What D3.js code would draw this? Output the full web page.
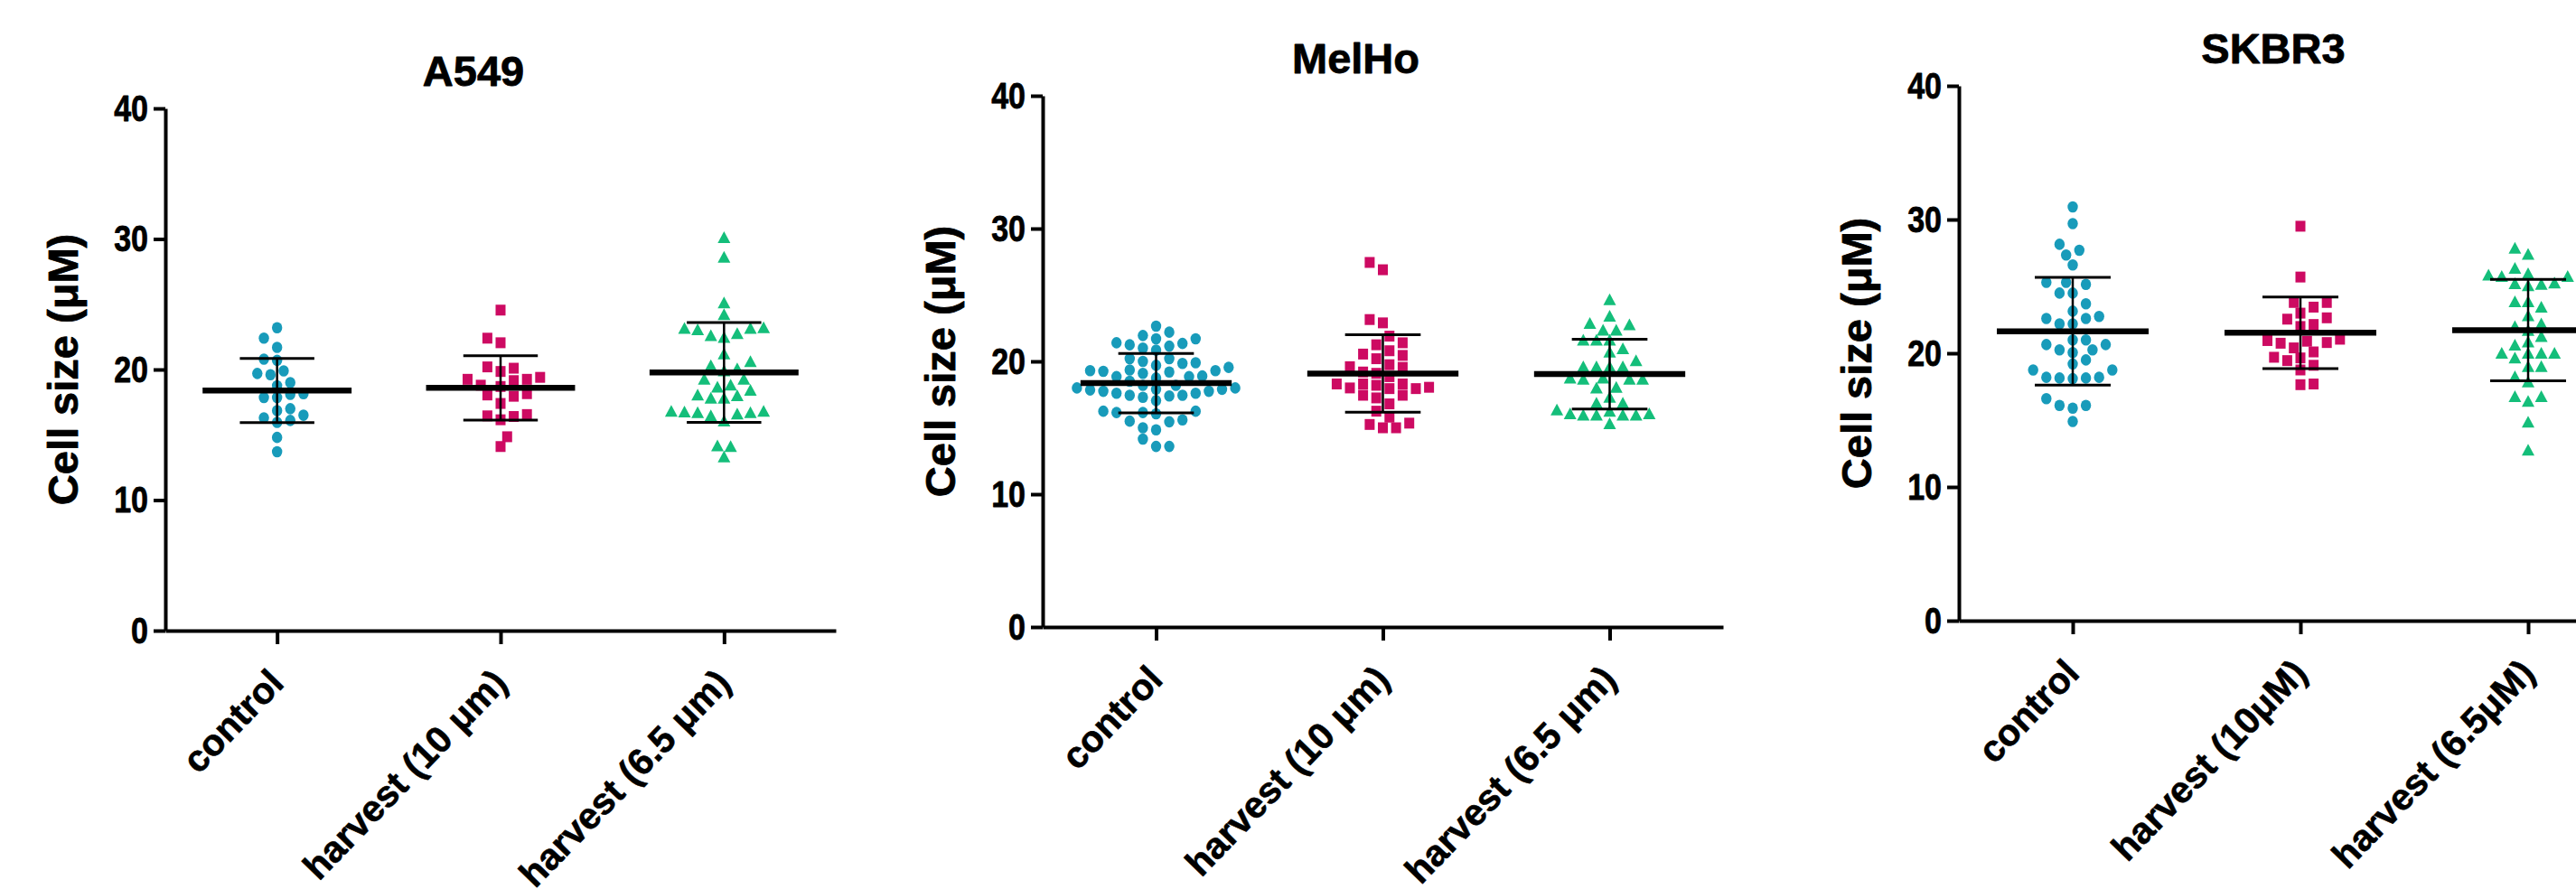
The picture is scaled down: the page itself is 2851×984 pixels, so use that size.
<!DOCTYPE html>
<html>
<head>
<meta charset="utf-8">
<script src="https://cdn.jsdelivr.net/npm/d3@7"></script>
<style>
  body { margin: 0; background: #fff; }
  svg { display: block; }
</style>
</head>
<body>
<script>

// ---- data ----
const labelsUm = ["control", "harvest (10 μm)", "harvest (6.5 μm)"]
const labelsUM = ["control", "harvest (10μM)", "harvest (6.5μM)"]
const yTicks = [0, 10, 20, 30, 40]

const a549Control = [23.2, 22.4, 21.7, 20.7, 20.8, 19.7, 19.6, 19.9, 18.75, 19.0, 18.1, 17.85, 17.85, 18.15, 17.0, 16.85, 16.5, 16.1, 15.95, 16.3, 14.8, 13.7]
const a549Harvest10 = [24.55, 22.4, 22.05, 20.1, 20.2, 19.4, 19.25, 19.85, 18.8, 18.7, 19.15, 19.25, 18.05, 17.95, 18.15, 17.4, 16.55, 16.4, 16.15, 16.45, 14.85, 14.1]
const a549Harvest65 = [30.1, 28.6, 25.1, 24.2, 23.15, 23.05, 22.6, 22.45, 22.75, 23.15, 23.2, 21.2, 20.6, 20.05, 19.9, 20.3, 19.25, 19.25, 18.8, 18.65, 18.4, 18.0, 17.8, 17.8, 18.05, 16.8, 16.7, 16.7, 16.45, 16.6, 16.75, 16.8, 16.05, 14.15, 14.1, 13.3]
const a549Mean = [18.39, 18.59, 19.77]
const a549Sd = [2.45, 2.46, 3.82]

const melControl = [22.65, 22.2, 21.95, 21.7, 21.4, 21.25, 21.35, 21.7, 21.15, 20.85, 21.0, 20.2, 20.0, 20.2, 19.85, 19.55, 19.3, 19.2, 19.1, 18.9, 18.75, 18.85, 18.85, 19.25, 19.3, 19.35, 19.7, 19.9, 18.2, 18.0, 17.9, 17.85, 17.75, 17.6, 17.45, 17.4, 17.45, 17.6, 17.75, 17.9, 18.0, 18.2, 18.5, 17.3, 17.05, 16.25, 16.15, 16.05, 16.15, 16.25, 15.5, 15.45, 15.6, 15.0, 14.85, 14.15, 13.6, 13.6]
const melHarvest10 = [27.45, 26.9, 23.15, 22.9, 21.9, 21.25, 21.4, 20.8, 20.55, 20.45, 20.2, 19.75, 19.6, 19.55, 19.2, 19.1, 18.85, 18.3, 18.3, 18.2, 18.3, 18.05, 17.95, 17.95, 18.0, 17.45, 17.45, 17.25, 16.8, 16.25, 15.8, 15.35, 15.0, 15.0, 15.25]
const melHarvest65 = [24.65, 23.4, 22.85, 22.75, 22.35, 22.35, 21.6, 21.6, 21.6, 20.7, 20.95, 20.05, 19.6, 19.6, 19.6, 19.6, 18.75, 18.65, 18.65, 18.65, 18.75, 18.05, 18.0, 17.3, 16.85, 16.85, 16.35, 16.05, 15.95, 15.95, 15.95, 15.95, 16.05, 16.25, 15.3]
const melMean = [18.36, 19.09, 19.04]
const melSd = [2.23, 2.92, 2.62]

const skControl = [30.95, 29.7, 28.15, 27.7, 27.35, 26.6, 25.3, 25.15, 25.3, 24.5, 24.5, 23.7, 23.15, 22.75, 22.6, 22.6, 22.2, 22.2, 21.0, 21.0, 20.65, 20.25, 20.05, 20.25, 20.65, 19.5, 19.2, 18.75, 18.75, 18.2, 18.15, 18.1, 18.15, 18.2, 16.6, 16.1, 16.1, 15.9, 14.9]
const skHarvest10 = [29.5, 25.7, 23.8, 23.8, 23.45, 23.0, 22.65, 22.55, 22.15, 22.0, 21.05, 20.95, 20.9, 20.75, 20.4, 20.1, 20.8, 19.7, 19.65, 19.45, 19.1, 18.75, 17.65, 17.7]
const skHarvest65 = [27.85, 27.4, 26.35, 25.95, 25.75, 25.75, 25.85, 25.25, 25.15, 25.05, 25.2, 23.85, 23.85, 23.45, 22.8, 22.2, 22.0, 21.7, 21.25, 20.85, 20.6, 20.0, 20.0, 20.0, 20.0, 19.65, 19.0, 19.0, 18.25, 17.85, 16.75, 16.75, 16.4, 14.85, 12.75]
const skMean = [21.64, 21.53, 21.73]
const skSd = [4.03, 2.68, 3.79]

// ---- layout ----
const panels = [
  { title: "A549", labels: labelsUm, values: [a549Control, a549Harvest10, a549Harvest65], means: a549Mean, sds: a549Sd,
    left: 183, top: 120, bottom: 698, width: 742 },
  { title: "MelHo", labels: labelsUm, values: [melControl, melHarvest10, melHarvest65], means: melMean, sds: melSd,
    left: 1154, top: 106, bottom: 694, width: 753 },
  { title: "SKBR3", labels: labelsUM, values: [skControl, skHarvest10, skHarvest65], means: skMean, sds: skSd,
    left: 2168, top: 95, bottom: 687, width: 756 },
]

const colors = ["#189bba", "#cd0a62", "#14be7a"]
const sans = "'Liberation Sans', Arial, sans-serif"

const svg = d3.select("body").append("svg")
  .attr("width", 2851)
  .attr("height", 984)

// simple beeswarm: each point goes to the nearest free slot
function swarm(values, y, sx, sy) {
  const order = d3.range(values.length).sort((a, b) => values[a] - values[b])
  const placed = []
  const off = []
  order.forEach((i, n) => {
    const py = y(values[i])
    for (let k = 0; k < 100; k++) {
      const m = Math.ceil(k / 2)
      const sign = (k % 2 === (n % 2)) ? 1 : -1
      const cx = m * sx / 2 * sign
      const hit = placed.some(p => ((p.x - cx) / sx) ** 2 + ((p.y - py) / sy) ** 2 < 1)
      if (!hit) {
        placed.push({ x: cx, y: py })
        off[i] = cx
        break
      }
    }
  })
  return off
}

function drawMarker(sel, kind, color) {
  if (kind === 0) {
    sel.append("ellipse").attr("rx", 5.7).attr("ry", 6.3).attr("fill", color)
  } else if (kind === 1) {
    sel.append("rect").attr("x", -5.5).attr("y", -6).attr("width", 11).attr("height", 12).attr("fill", color)
  } else {
    sel.append("path").attr("d", "M0,-7L7,6L-7,6Z").attr("fill", color)
  }
}

// heavier look of the original bold type
function heavy(sel, w) {
  sel.attr("stroke", "#000").attr("stroke-width", w).attr("stroke-linejoin", "round")
}

panels.forEach(p => {
  const g = svg.append("g")

  const y = d3.scaleLinear().domain([0, 40]).range([p.bottom, p.top])
  const x = d3.scalePoint().domain([0, 1, 2]).range([p.left, p.left + p.width]).padding(0.5)
  const step = x.step()

  // y axis
  const yAxis = g.append("g")
    .attr("transform", `translate(${p.left},0)`)
    .call(d3.axisLeft(y).tickValues(yTicks).tickSize(13).tickSizeOuter(0).tickPadding(6))
  yAxis.attr("font-size", 41).attr("font-family", sans).attr("font-weight", "bold")
  yAxis.select(".domain").attr("stroke-width", 4)
  yAxis.selectAll(".tick line").attr("stroke-width", 4)
  yAxis.selectAll(".tick text")
    .attr("fill", "#000")
    .attr("x", 0)
    .attr("transform", "translate(-19,0) scale(0.83,1)")
    .call(heavy, 0.8)

  // x axis
  const xAxis = g.append("g")
    .attr("transform", `translate(0,${p.bottom})`)
    .call(d3.axisBottom(x).tickSize(15).tickSizeOuter(0).tickFormat(i => p.labels[i]))
  xAxis.attr("font-size", 41).attr("font-family", sans).attr("font-weight", "bold")
  xAxis.select(".domain").attr("stroke-width", 4)
  xAxis.selectAll(".tick line").attr("stroke-width", 4)
  xAxis.selectAll(".tick text")
    .attr("fill", "#000")
    .attr("y", 0)
    .attr("dy", 0)
    .attr("text-anchor", "end")
    .attr("transform", "translate(9,60) rotate(-46)")
    .call(heavy, 0.6)

  // title
  g.append("text")
    .attr("x", p.left + p.width / 2 - 30)
    .attr("y", p.top - 25)
    .attr("text-anchor", "middle")
    .attr("font-family", sans)
    .attr("font-weight", "bold")
    .attr("font-size", 47)
    .text(p.title)
    .call(heavy, 0.8)

  // y label
  g.append("text")
    .attr("transform", `translate(${p.left - 97},${(p.top + p.bottom) / 2}) rotate(-90)`)
    .attr("text-anchor", "middle")
    .attr("font-family", sans)
    .attr("font-weight", "bold")
    .attr("font-size", 47)
    .text("Cell size (μM)")
    .call(heavy, 0.8)

  // points
  p.values.forEach((vals, i) => {
    const off = swarm(vals, y, 14.6, 12.4)
    g.append("g").selectAll("g")
      .data(vals)
      .enter()
      .append("g")
        .attr("transform", (d, j) => `translate(${x(i) + off[j]},${y(d)})`)
        .each(function () { drawMarker(d3.select(this), i, colors[i]) })
  })

  // mean and SD
  p.means.forEach((m, i) => {
    const sd = p.sds[i]
    g.append("line")
      .attr("x1", x(i)).attr("x2", x(i))
      .attr("y1", y(m - sd)).attr("y2", y(m + sd))
      .attr("stroke", "#000").attr("stroke-width", 2.5)
    ;[m - sd, m + sd].forEach(v => {
      g.append("line")
        .attr("x1", x(i) - step / 6).attr("x2", x(i) + step / 6)
        .attr("y1", y(v)).attr("y2", y(v))
        .attr("stroke", "#000").attr("stroke-width", 3)
    })
    g.append("line")
      .attr("x1", x(i) - step / 3).attr("x2", x(i) + step / 3)
      .attr("y1", y(m)).attr("y2", y(m))
      .attr("stroke", "#000").attr("stroke-width", 6.5)
  })
})

</script>
</body>
</html>
